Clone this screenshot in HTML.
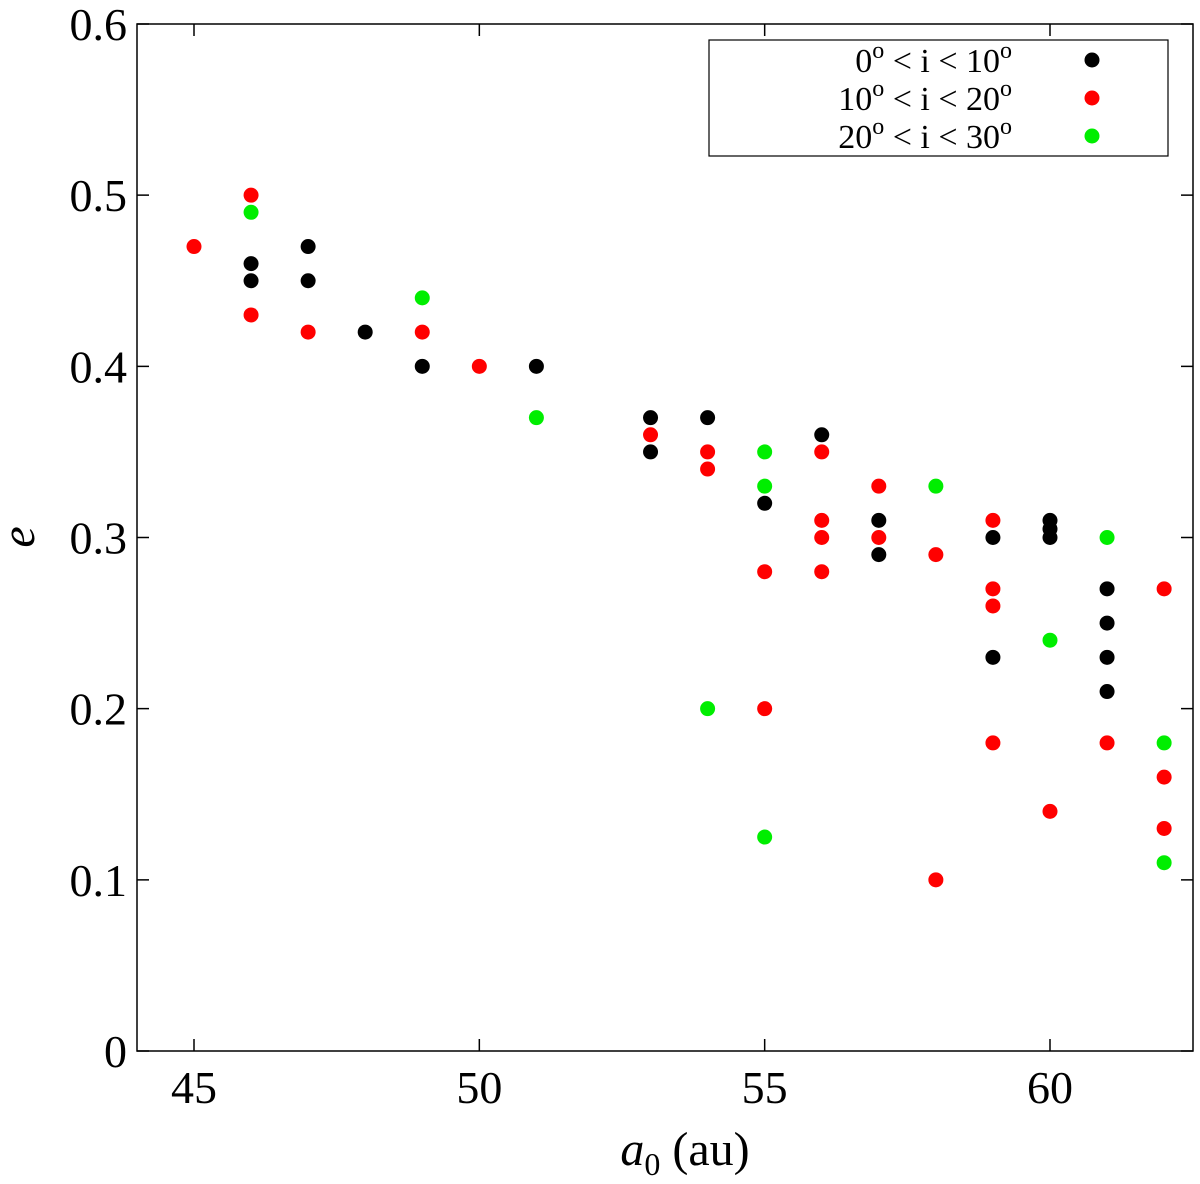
<!DOCTYPE html>
<html><head><meta charset="utf-8"><style>body{margin:0;background:#fff}svg{display:block}</style></head>
<body>
<svg id="chart" width="1200" height="1184" xmlns="http://www.w3.org/2000/svg" font-family="Liberation Serif, serif"></svg>
<script>
const blackX=[46,46,47,47,48,49,51,53,53,54,55,56,57,57,59,59,60,60,60,61,61,61,61];
const blackY=[0.46,0.45,0.47,0.45,0.42,0.40,0.40,0.37,0.35,0.37,0.32,0.36,0.31,0.29,0.30,0.23,0.31,0.305,0.30,0.27,0.25,0.23,0.21];
const redX=[45,46,46,47,49,50,53,54,54,55,55,56,56,56,56,57,57,58,58,59,59,59,59,60,61,62,62,62];
const redY=[0.47,0.50,0.43,0.42,0.42,0.40,0.36,0.35,0.34,0.28,0.20,0.35,0.31,0.30,0.28,0.33,0.30,0.29,0.10,0.31,0.27,0.26,0.18,0.14,0.18,0.27,0.16,0.13];
const greenX=[46,49,51,54,55,55,55,58,60,61,62,62];
const greenY=[0.49,0.44,0.37,0.20,0.35,0.33,0.125,0.33,0.24,0.30,0.18,0.11];
const xTicks=[45,50,55,60];
const yTicks=[0,0.1,0.2,0.3,0.4,0.5,0.6];
const L=137,R=1193,T=24,B=1051;
const sx=v=>194+(v-45)*(1050-194)/15;
const sy=v=>B-(v/0.6)*(B-T);
const svg=document.getElementById('chart');
const NS='http://www.w3.org/2000/svg';
function mk(tag,attrs,parent){const e=document.createElementNS(NS,tag);for(const k in attrs)e.setAttribute(k,attrs[k]);(parent||svg).appendChild(e);return e;}
let e=mk('rect',{x:L,y:T,width:R-L,height:B-T,fill:'none',stroke:'#000','stroke-width':1.5});


xTicks.forEach(t=>{const x=sx(t);
 let l=mk('path',{d:`M${x},${B}v-12M${x},${T}v12`,stroke:'#000','stroke-width':1.5});
 
 
 let tx=mk('text',{x:x,y:B+52,'font-size':46,'text-anchor':'middle'});tx.textContent=t;
 
 
});
yTicks.forEach(t=>{const y=sy(t);
 let l=mk('path',{d:`M${L},${y}h12M${R},${y}h-12`,stroke:'#000','stroke-width':1.5});
 
 
 let tx=mk('text',{x:L-10,y:y+16,'font-size':46,'text-anchor':'end'});tx.textContent=t;
 
 
});
function series(xs,ys,col,name){xs.forEach((v,i)=>{let c=mk('circle',{cx:sx(v),cy:sy(ys[i]),r:7.5,fill:col});
 
 });}
series(blackX,blackY,'#000','point-low-inclination');
series(redX,redY,'#f00','point-mid-inclination');
series(greenX,greenY,'#0e0','point-high-inclination');
let xt=mk('text',{x:685,y:1165,'font-size':48,'text-anchor':'middle'});
xt.innerHTML='<tspan font-style="italic">a</tspan><tspan font-size="32" dy="10">0</tspan><tspan dy="-10"> (au)</tspan>';


let yt=mk('text',{x:0,y:0,'font-size':48,'font-style':'italic','text-anchor':'middle',transform:'translate(34,537) rotate(-90)'});yt.textContent='e';


let lg=mk('g',{});


mk('rect',{x:709,y:40,width:459,height:116,fill:'#fff',stroke:'#000','stroke-width':1.2},lg);
const labs=['0<tspan font-size="24" dy="-14">o</tspan><tspan dy="14"> &lt; i &lt; 10</tspan><tspan font-size="24" dy="-14">o</tspan>','10<tspan font-size="24" dy="-14">o</tspan><tspan dy="14"> &lt; i &lt; 20</tspan><tspan font-size="24" dy="-14">o</tspan>','20<tspan font-size="24" dy="-14">o</tspan><tspan dy="14"> &lt; i &lt; 30</tspan><tspan font-size="24" dy="-14">o</tspan>'];
const cols=['#000','#f00','#0e0'];
labs.forEach((s,i)=>{const y=60+i*38;
 let t=mk('text',{x:1012,y:y+12,'font-size':34,'text-anchor':'end'},lg);t.innerHTML=s;
 
 
 let c=mk('circle',{cx:1092,cy:y,r:7.5,fill:cols[i]},lg);
 
 
});
</script>
</body></html>
